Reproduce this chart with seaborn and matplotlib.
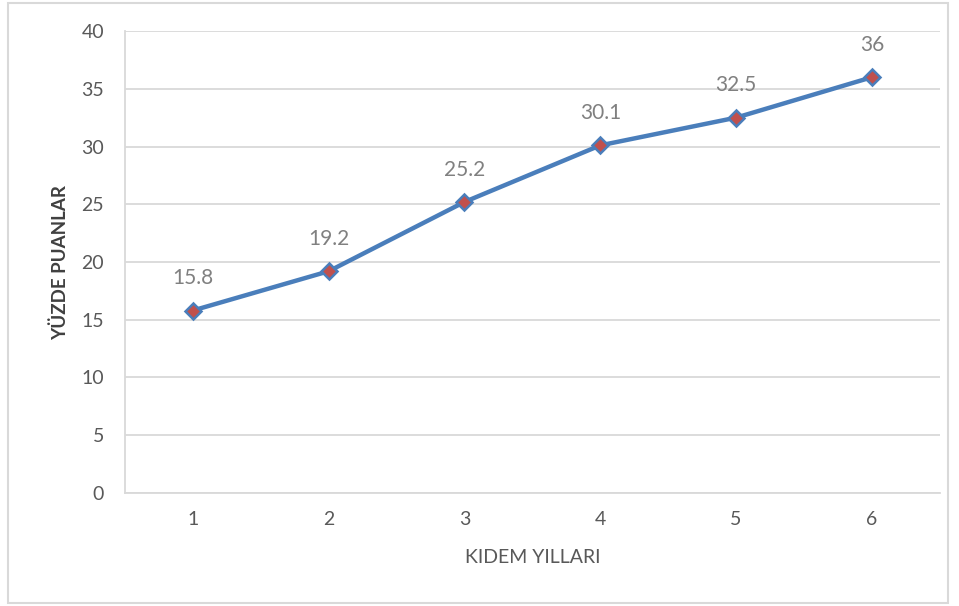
import matplotlib
matplotlib.use("Agg")
import matplotlib.pyplot as plt
import pandas as pd
import seaborn as sns
from matplotlib.patches import Rectangle

years = [1, 2, 3, 4, 5, 6]
scores = [15.8, 19.2, 25.2, 30.1, 32.5, 36]
value_labels = ["15.8", "19.2", "25.2", "30.1", "32.5", "36"]
y_ticks = [0, 5, 10, 15, 20, 25, 30, 35, 40]

df = pd.DataFrame({"year": years, "score": scores})

sns.set_theme(style="white")
plt.rcParams["font.family"] = ["Lato", "DejaVu Sans"]

fig = plt.figure(figsize=(9.59, 6.06), dpi=100)
ax = fig.add_axes([0.1303, 0.1865, 0.8497, 0.7623])

sns.lineplot(data=df, x="year", y="score", ax=ax, color="#4A7EBB", linewidth=3.2,
             marker="D", markersize=8, markerfacecolor="#C0504D",
             markeredgecolor="#4A7EBB", markeredgewidth=1.8, zorder=3)

for x, y, lab in zip(years, scores, value_labels):
    ax.annotate(lab, (x, y), xytext=(0, 16), textcoords="offset points",
                ha="center", va="bottom", fontsize=15, color="#808080")

ax.set_xlim(0.5, 6.5)
ax.set_ylim(0, 40)
ax.set_xticks(years)
ax.set_yticks(y_ticks)
ax.tick_params(axis="both", labelsize=14, colors="#595959", length=0)
ax.tick_params(axis="y", pad=15)
ax.tick_params(axis="x", pad=13)
ax.yaxis.grid(True, color="#D9D9D9", linewidth=1.3)
ax.xaxis.grid(False)
for side in ["top", "right"]:
    ax.spines[side].set_visible(False)
for side in ["left", "bottom"]:
    ax.spines[side].set_color("#D9D9D9")
    ax.spines[side].set_linewidth(1.3)

ax.set_xlabel("KIDEM YILLARI", fontsize=14, color="#595959", labelpad=15)
ax.set_ylabel("YÜZDE PUANLAR", fontsize=13.5, color="#404040", fontweight="bold",
              labelpad=9)

fig.patches.append(Rectangle((8 / 959, 3 / 606), 940 / 959, 600 / 606,
                             transform=fig.transFigure, fill=False,
                             edgecolor="#D9D9D9", linewidth=1.5))

fig.savefig("out.png", dpi=100, facecolor="white")
